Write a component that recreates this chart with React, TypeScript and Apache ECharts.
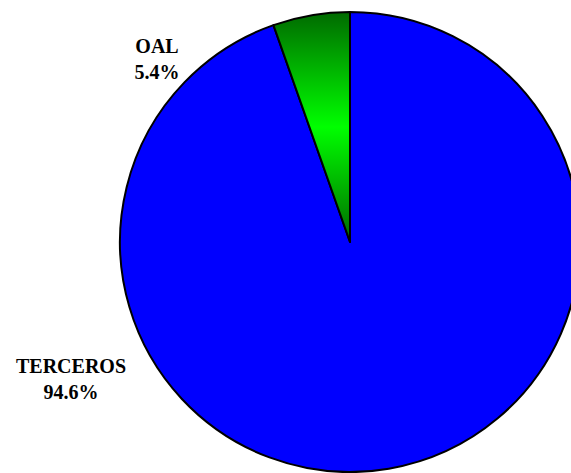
import React, { useEffect, useRef } from "react";
import * as echarts from "echarts";

const categories = ["TERCEROS", "OAL"];
const values = [94.6, 5.4];
const labelSpots = [
  [71, 379],
  [157, 59],
];

export default function App() {
  const ref = useRef<HTMLDivElement>(null);
  useEffect(() => {
    document.body.style.margin = "0";
    const chart = echarts.init(ref.current!, null, { renderer: "svg" });
    const green = new echarts.graphic.LinearGradient(
      0, 12, 0, 242,
      [
        { offset: 0, color: "#006a00" },
        { offset: 0.5, color: "#00ff00" },
        { offset: 1, color: "#006a00" },
      ],
      true
    );
    const colors = ["#0000ff", green];
    chart.setOption({
      animation: false,
      backgroundColor: "#ffffff",
      series: [
        {
          type: "pie",
          center: [350, 242],
          radius: 230,
          startAngle: 90,
          clockwise: true,
          data: categories.map((name, i) => ({
            name,
            value: values[i],
            itemStyle: { color: colors[i] },
          })),
          itemStyle: { borderColor: "#000000", borderWidth: 2 },
          label: {
            show: true,
            position: "outside",
            formatter: (p: any) => `${p.name}\n${p.value.toFixed(1)}%`,
            fontFamily: "Liberation Serif",
            fontWeight: "bold",
            fontSize: 20,
            lineHeight: 26,
            color: "#000000",
            align: "center",
          },
          labelLine: { show: false },
          labelLayout: (params: any) => ({
            x: labelSpots[params.dataIndex][0],
            y: labelSpots[params.dataIndex][1],
            align: "center",
            verticalAlign: "middle",
          }),
          emphasis: { disabled: true },
        },
      ],
    });
    return () => chart.dispose();
  }, []);
  return <div ref={ref} style={{ width: 571, height: 473 }} />;
}
